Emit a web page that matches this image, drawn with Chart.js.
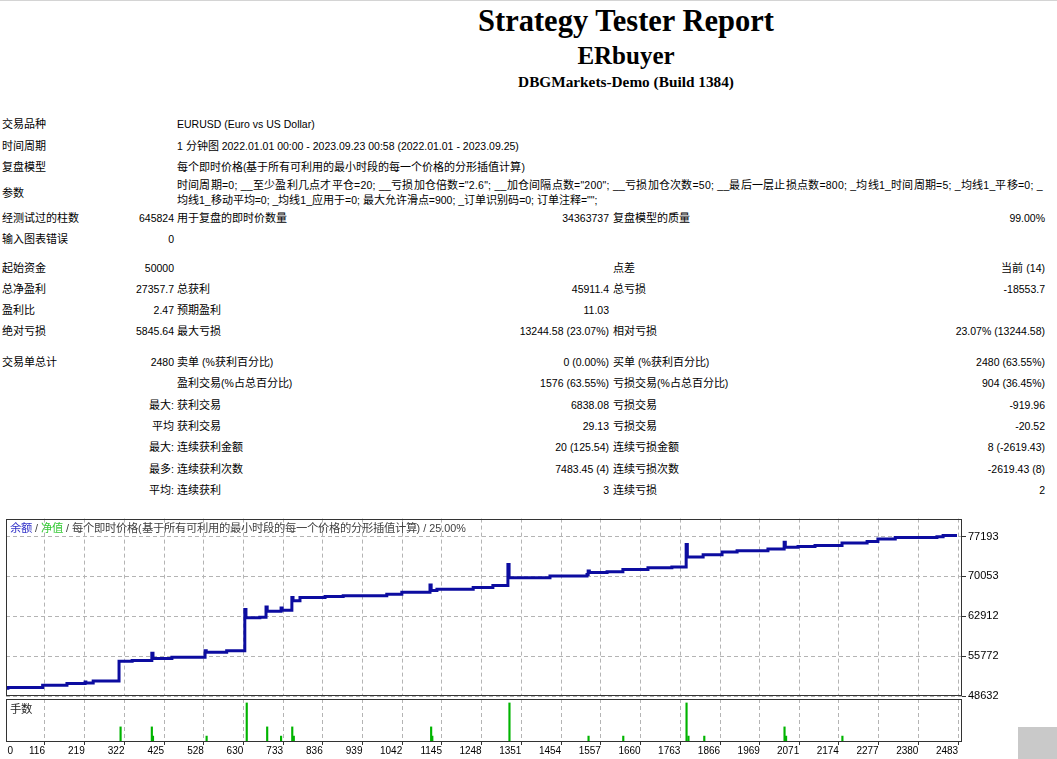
<!DOCTYPE html>
<html>
<head>
<meta charset="utf-8">
<script src="https://cdn.jsdelivr.net/npm/chart.js@4.4.0/dist/chart.umd.min.js"></script>
<style>
  @font-face {
    font-family: "CJKWide";
    src: local("Noto Sans CJK SC"), local("Noto Sans CJK SC Regular"), local("NotoSansCJKsc-Regular");
    size-adjust: 105%;
  }
  html, body { margin: 0; padding: 0; background: #fff; }
  body {
    width: 1057px; height: 759px; overflow: hidden; position: relative;
    font-family: "Liberation Sans", "CJKWide", "Noto Sans CJK SC", sans-serif;
    font-size: 10.5px; color: #000;
  }
  .topline { position: absolute; left: 0; top: 0; width: 1057px; height: 1px; background: #d4d4d4; }
  .h { position: absolute; left: 0; width: 1252px; text-align: center; white-space: nowrap;
       font-family: "Liberation Serif", "Noto Serif CJK SC", serif; font-weight: bold; }
  .t { position: absolute; white-space: nowrap; line-height: 14px; }
  .c1 { left: 2px; }
  .c2 { right: 883px; }
  .c3 { left: 177px; }
  .c4 { right: 448px; }
  .c5 { left: 613px; }
  .c6 { right: 12px; }
  .wide { letter-spacing: 0.24px; }
  canvas { position: absolute; left: 0; }
  #main { top: 510px; }
  #lots { top: 693px; }
  .lbl { position: absolute; white-space: nowrap; font-size: 10.8px; line-height: 14px; color: #404040; }
  .corner { position: absolute; left: 1018px; top: 727px; width: 39px; height: 32px; background: #c9c9c9; }
</style>
</head>
<body>
<div class="topline"></div>
<div class="h" style="top:6px;font-size:30.5px;line-height:30px;">Strategy Tester Report</div>
<div class="h" style="top:43px;font-size:25px;line-height:25px;">ERbuyer</div>
<div class="h" style="top:74px;font-size:15.3px;line-height:15px;">DBGMarkets-Demo (Build 1384)</div>
<div id="report"></div>

<canvas id="main" width="1015" height="200"></canvas>
<canvas id="lots" width="1015" height="66"></canvas>
<div class="lbl" style="left:10px;top:521px;"><span style="color:#3232c8">余额</span> / <span style="color:#32c832">净值</span> / 每个即时价格(基于所有可利用的最小时段的每一个价格的分形插值计算) / 25.00%</div>
<div class="lbl" style="left:10px;top:702px;color:#202020">手数</div>
<div class="corner"></div>

<script>
// report rows: centre y, then the six columns
const reportRows = [
  [124, '交易品种', '', 'EURUSD (Euro vs US Dollar)', '', '', ''],
  [145.5, '时间周期', '', '1 分钟图 2022.01.01 00:00 - 2023.09.23 00:58 (2022.01.01 - 2023.09.25)', '', '', ''],
  [166.5, '复盘模型', '', '每个即时价格(基于所有可利用的最小时段的每一个价格的分形插值计算)', '', '', ''],
  [192.5, '参数', '', '', '', '', ''],
  [185, '', '', '时间周期=0; __至少盈利几点才平仓=20; __亏损加仓倍数="2.6"; __加仓间隔点数="200"; __亏损加仓次数=50; __最后一层止损点数=800; _均线1_时间周期=5; _均线1_平移=0; _', '', '', ''],
  [199.5, '', '', '均线1_移动平均=0; _均线1_应用于=0; 最大允许滑点=900; _订单识别码=0; 订单注释="";', '', '', ''],
  [218, '经测试过的柱数', '645824', '用于复盘的即时价数量', '34363737', '复盘模型的质量', '99.00%'],
  [239, '输入图表错误', '0', '', '', '', ''],
  [268, '起始资金', '50000', '', '', '点差', '当前 (14)'],
  [289, '总净盈利', '27357.7', '总获利', '45911.4', '总亏损', '-18553.7'],
  [310, '盈利比', '2.47', '预期盈利', '11.03', '', ''],
  [331, '绝对亏损', '5845.64', '最大亏损', '13244.58 (23.07%)', '相对亏损', '23.07% (13244.58)'],
  [362, '交易单总计', '2480', '卖单 (%获利百分比)', '0 (0.00%)', '买单 (%获利百分比)', '2480 (63.55%)'],
  [383, '', '', '盈利交易(%占总百分比)', '1576 (63.55%)', '亏损交易(%占总百分比)', '904 (36.45%)'],
  [404.5, '', '最大:', '获利交易', '6838.08', '亏损交易', '-919.96'],
  [425.5, '', '平均', '获利交易', '29.13', '亏损交易', '-20.52'],
  [447, '', '最大:', '连续获利金额', '20 (125.54)', '连续亏损金额', '8 (-2619.43)'],
  [468.5, '', '最多:', '连续获利次数', '7483.45 (4)', '连续亏损次数', '-2619.43 (8)'],
  [490, '', '平均:', '连续获利', '3', '连续亏损', '2']
];

// balance curve (trade number, balance)
const balanceTrades = [0, 20, 110, 173, 220, 222, 241, 308, 342, 393, 396, 445, 531, 534, 587,
  634, 637, 673, 689, 692, 728, 731, 756, 759, 777, 842, 889, 1002, 1041, 1114, 1117, 1132,
  1226, 1277, 1316, 1319, 1425, 1521, 1524, 1527, 1573, 1614, 1679, 1741, 1778, 1781, 1822,
  1871, 1910, 1990, 2032, 2035, 2068, 2112, 2182, 2247, 2275, 2320, 2428, 2444, 2480];
const balanceValues = [50000, 50150, 50570, 50870, 51150, 50950, 51330, 54860, 55000, 56270, 55340, 55570, 56750, 56450, 56750,
  64110, 62630, 62750, 64570, 63810, 64390, 63990, 66280, 65700, 66280, 66460, 66580, 66870, 67220, 68520, 67520, 67750,
  68050, 68400, 72160, 69810, 70110, 70400, 71000, 70750, 70870, 71280, 71580, 71750, 75760, 73520, 73920,
  74400, 74630, 74980, 76170, 75280, 75410, 75580, 76040, 76290, 76750, 77000, 77170, 77357.7, 77357.7];

// lots panel
const lotTrades = [312, 393, 396, 535, 639, 692, 728, 757, 761, 1117, 1120, 1320, 1525, 1615, 1779, 1784, 1825, 2033, 2037, 2183];
const lotValues = [0.46, 0.46, 0.18, 0.18, 1.19, 0.46, 0.18, 0.46, 0.18, 0.46, 0.18, 1.19, 0.18, 0.18, 1.19, 0.18, 0.18, 0.46, 0.18, 0.18];

const xTicks = [116, 219, 322, 425, 528, 630, 733, 836, 939, 1042, 1145, 1248, 1351, 1454, 1557, 1660, 1763, 1866, 1969, 2071, 2174, 2277, 2380, 2483];
const yTicks = [48632, 55772, 62912, 70053, 77193];

const X_MIN = 15, X_MAX = 2493;
const ZERO_AT = 33; // where the "0" label sits
const FONT = 'Liberation Sans';
const GRID = '#b4b4b4';

const report = document.getElementById('report');
const cols = ['c1', 'c2', 'c3', 'c4', 'c5', 'c6'];
reportRows.forEach(row => {
  for (let i = 1; i < row.length; i++) {
    if (!row[i]) continue;
    const d = document.createElement('div');
    d.className = 't ' + cols[i - 1] + (row[i].length > 60 && row[i].indexOf('=') > 0 ? ' wide' : '');
    d.style.top = (row[0] - 7) + 'px';
    d.textContent = row[i];
    report.appendChild(d);
  }
});

const frame = {
  id: 'frame',
  afterDraw(chart) {
    const a = chart.chartArea, ctx = chart.ctx;
    ctx.save();
    ctx.strokeStyle = '#333';
    ctx.lineWidth = 1;
    ctx.strokeRect(Math.round(a.left) + 0.5, Math.round(a.top) + 0.5,
      Math.round(a.right - a.left) - 1, Math.round(a.bottom - a.top) - 1);
    ctx.restore();
  }
};

new Chart(document.getElementById('main'), {
  type: 'line',
  data: {
    datasets: [{
      data: balanceTrades.map((t, i) => ({ x: t, y: balanceValues[i] })),
      borderColor: '#0c0ca0',
      borderWidth: 3,
      pointRadius: 0,
      stepped: true,
      fill: false
    }]
  },
  options: {
    responsive: false,
    animation: false,
    layout: { padding: { left: 6, top: 6, right: 0, bottom: 14 } },
    plugins: { legend: { display: false }, tooltip: { enabled: false } },
    scales: {
      x: {
        type: 'linear', min: X_MIN, max: X_MAX,
        afterBuildTicks: s => { s.ticks = xTicks.map(v => ({ value: v })); },
        afterFit: s => { s.height = 0; },
        ticks: { display: false },
        grid: { color: GRID, drawTicks: false },
        border: { display: false, dash: [4, 3] }
      },
      y: {
        position: 'right', min: 48632, max: 80402,
        afterBuildTicks: s => { s.ticks = yTicks.map(v => ({ value: v })); },
        afterFit: s => { s.width = 53; },
        ticks: {
          color: '#000', font: { family: FONT, size: 11 }, padding: 2, autoSkip: false,
          callback: v => String(v)
        },
        grid: { color: GRID, tickLength: 4, tickColor: '#333' },
        border: { display: false, dash: [4, 3] }
      }
    }
  },
  plugins: [frame]
});

new Chart(document.getElementById('lots'), {
  type: 'bar',
  data: {
    datasets: [{
      data: lotTrades.map((t, i) => ({ x: t, y: lotValues[i] })),
      backgroundColor: '#00b400',
      barThickness: 1.5
    }]
  },
  options: {
    responsive: false,
    animation: false,
    layout: { padding: { left: 6, top: 6, right: 53, bottom: 0 } },
    plugins: { legend: { display: false }, tooltip: { enabled: false } },
    scales: {
      x: {
        type: 'linear', min: X_MIN, max: X_MAX, offset: false,
        afterBuildTicks: s => { s.ticks = [ZERO_AT].concat(xTicks).map(v => ({ value: v })); },
        afterFit: s => { s.height = 17; },
        ticks: {
          color: '#000', font: { family: FONT, size: 10 }, align: 'end', padding: 0,
          autoSkip: false, maxRotation: 0,
          callback: v => (v === ZERO_AT ? '0' : String(v))
        },
        grid: {
          offset: false,
          color: c => (c.tick && c.tick.value === ZERO_AT ? 'rgba(0,0,0,0)' : GRID),
          tickColor: c => (c.tick && c.tick.value === ZERO_AT ? 'rgba(0,0,0,0)' : '#333'),
          tickLength: 3
        },
        border: { display: false, dash: [4, 3] }
      },
      y: { display: false, min: 0, max: 1.31 }
    }
  },
  plugins: [frame]
});
</script>
</body>
</html>
